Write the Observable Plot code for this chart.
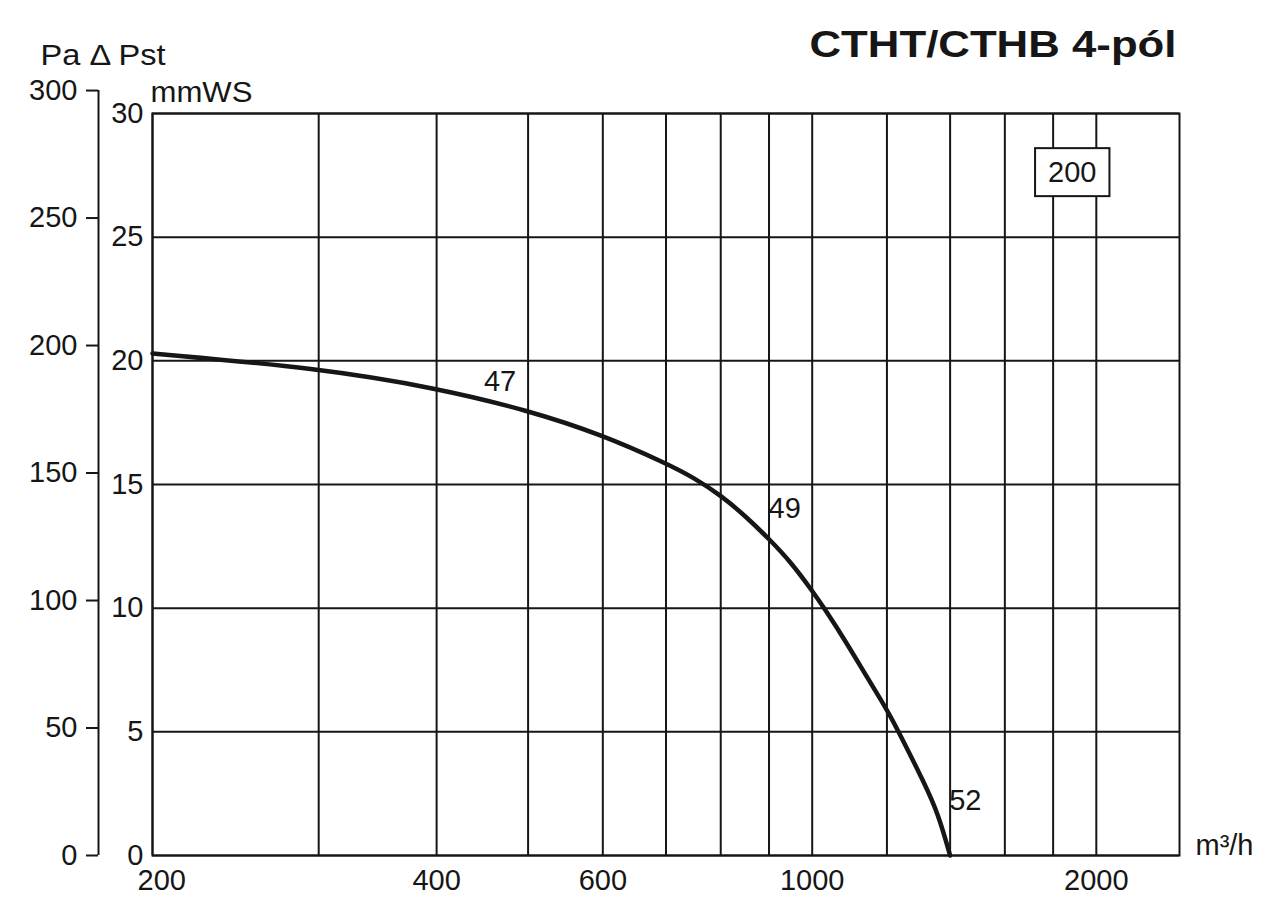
<!DOCTYPE html>
<html>
<head>
<meta charset="utf-8">
<script src="https://cdn.jsdelivr.net/npm/d3@7"></script>
<script src="https://cdn.jsdelivr.net/npm/@observablehq/plot@0.6"></script>
<style>
  html, body { margin: 0; padding: 0; background: #fff; }
  #chart { width: 1280px; height: 923px; }
</style>
</head>
<body>
<div id="chart"></div>
<script>
// ---- data ----
const title = "CTHT/CTHB 4-pól";
const modelSize = "200";
const flow =     [200, 300, 400, 500, 600, 700, 750, 800, 850, 900, 950, 1000, 1030, 1090, 1145, 1200, 1235, 1315, 1360, 1400];
const pressure = [20.3, 19.7, 18.9, 18.0, 17.0, 15.86, 15.27, 14.56, 13.72, 12.8, 11.85, 10.7, 10.0, 8.54, 7.16, 5.9, 5.0, 2.92, 1.68, 0];
const mmTicks = [0, 5, 10, 15, 20, 25, 30];
const paTicks = [0, 50, 100, 150, 200, 250, 300];
const xGrid = [200, 300, 400, 500, 600, 700, 800, 900, 1000, 1200, 1400, 1600, 1800, 2000];
const xTickLabels = [200, 400, 600, 1000, 2000];
const curveLabels = ["47", "49", "52"];
const labelFlow = [467, 935, 1453];
const labelPressure = [19.17, 14.03, 2.22];
const boxFlow = 1886;
const boxPressure = 27.6;
const paPerMm = 9.7;   // Pa per mmWS as drawn on the reference's outer scale

// ---- chart ----
const rows = flow.map((f, i) => ({flow: f, pressure: pressure[i]}));
const ink = "#161616";
const font = "'Liberation Sans', Arial, Helvetica, sans-serif";
const fs = 29;

const plot = Plot.plot({
  width: 1280,
  height: 923,
  marginLeft: 152,
  marginRight: 101,
  marginTop: 113,
  marginBottom: 68,
  style: {fontFamily: font, fontSize: fs + "px", color: ink, background: "#fff", overflow: "visible"},
  x: {type: "log", domain: [200, 2450], axis: null},
  y: {domain: [0, 30], axis: null},
  marks: [
    Plot.ruleX(xGrid, {stroke: ink, strokeWidth: 2}),
    Plot.ruleY(mmTicks, {stroke: ink, strokeWidth: 2}),
    Plot.frame({stroke: ink, strokeWidth: 2}),
    // outer Pa axis
    Plot.ruleX([200], {y1: 0, y2: d3.max(paTicks) / paPerMm, dx: -54, stroke: ink, strokeWidth: 2}),
    Plot.axisY(paTicks.map(p => p / paPerMm), {
      anchor: "left", dx: -54, tickSize: 12, tickPadding: 9,
      tickFormat: d => String(Math.round(d * paPerMm)),
      label: null, fontSize: fs, color: ink, strokeWidth: 2
    }),
    // inner mmWS axis
    Plot.axisY(mmTicks, {anchor: "left", tickSize: 0, tickPadding: 9, label: null, fontSize: fs, color: ink}),
    // x tick labels
    Plot.text(xTickLabels.filter(d => d !== 200), {x: d => d, text: d => String(d), frameAnchor: "bottom", dy: 34, fontSize: fs, fill: ink}),
    Plot.text(xTickLabels.filter(d => d === 200), {x: d => d, text: d => String(d), frameAnchor: "bottom", textAnchor: "start", dx: -15, dy: 34, fontSize: fs, fill: ink}),
    // curve
    Plot.line(rows, {x: "flow", y: "pressure", curve: "basis", stroke: ink, strokeWidth: 4.5, strokeLinejoin: "round"}),
    Plot.text(curveLabels, {x: (d, i) => labelFlow[i], y: (d, i) => labelPressure[i], text: d => d, fontSize: fs, fill: ink}),
    // model box label
    Plot.text([modelSize], {x: () => boxFlow, y: () => boxPressure, text: d => d, fontSize: fs, fill: ink}),
    // titles and unit labels
    Plot.text([title], {frameAnchor: "top-right", textAnchor: "end", lineAnchor: "middle", dx: -3, dy: -68, fontSize: 37, fontWeight: "bold", fill: ink}),
    Plot.text(["Pa Δ Pst"], {frameAnchor: "top-left", textAnchor: "start", lineAnchor: "middle", dx: -112, dy: -58, fontSize: fs, fill: ink}),
    Plot.text(["mmWS"], {frameAnchor: "top-left", textAnchor: "start", lineAnchor: "middle", dx: -2, dy: -21, fontSize: fs, fill: ink}),
    Plot.text(["m³/h"], {frameAnchor: "bottom-right", textAnchor: "start", lineAnchor: "middle", dx: 16, dy: -10, fontSize: fs, fill: ink})
  ]
});

document.getElementById("chart").appendChild(plot);

const svg = d3.select(plot);

// widen a few labels to the reference's (horizontally wider) lettering
const stretch = {[title]: 367, "Pa Δ Pst": 125, "mmWS": 102};
svg.selectAll("text").each(function () {
  const w = stretch[this.textContent];
  if (w) d3.select(this).attr("textLength", w).attr("lengthAdjust", "spacingAndGlyphs");
});

// draw the white box with a border behind the model label (the topmost "200")
let boxText = null;
svg.selectAll("text").each(function () {
  if (this.textContent === modelSize) {
    if (!boxText || this.getBoundingClientRect().top < boxText.getBoundingClientRect().top) boxText = this;
  }
});
if (boxText) {
  const b = boxText.getBBox();
  const padX = 13, padY = 8;
  const t = boxText.getAttribute("transform");
  const rect = d3.select(boxText.parentNode).insert("rect", () => boxText)
    .attr("x", b.x - padX).attr("y", b.y - padY)
    .attr("width", b.width + 2 * padX).attr("height", b.height + 2 * padY)
    .attr("fill", "#fff").attr("stroke", ink).attr("stroke-width", 2);
  if (t) rect.attr("transform", t);
}
</script>
</body>
</html>
